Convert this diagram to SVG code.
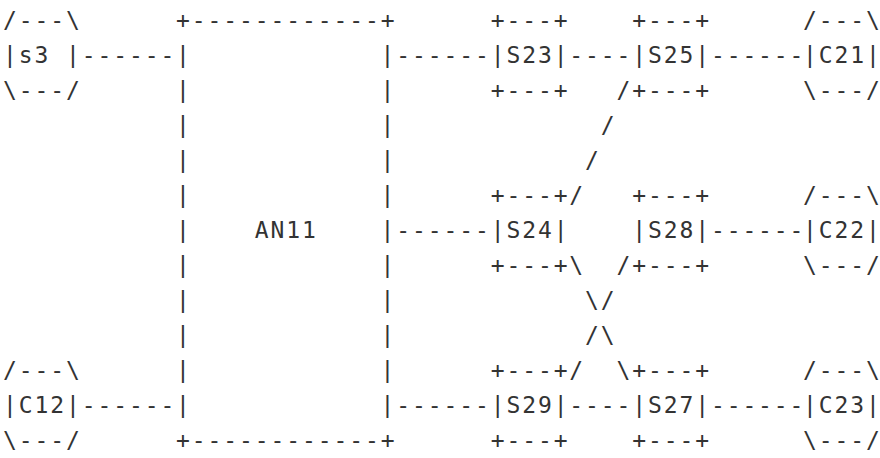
<svg xmlns="http://www.w3.org/2000/svg" width="880" height="458" viewBox="0 0 880 458">
<style>
text { font-family: "DejaVu Sans Mono", "Liberation Mono", monospace; font-size: 23px; letter-spacing: 1.885px; fill: #333333; white-space: pre; }
text.edge { letter-spacing: 0; }
</style>
<rect width="880" height="458" fill="#ffffff"/>
<g id="connectors">
<text y="63"><tspan x="81.73">------</tspan><tspan x="396.33">------</tspan><tspan x="569.36">----</tspan><tspan x="710.93">------</tspan></text>
<text y="98"><tspan x="616.55">/</tspan></text>
<text y="133"><tspan x="600.82">/</tspan></text>
<text y="168"><tspan x="585.09">/</tspan></text>
<text y="203"><tspan x="569.36">/</tspan></text>
<text y="238"><tspan x="396.33">------</tspan><tspan x="710.93">------</tspan></text>
<text y="273"><tspan x="569.36">\</tspan><tspan x="616.55">/</tspan></text>
<text y="308"><tspan x="585.09">\/</tspan></text>
<text y="343"><tspan x="585.09">/\</tspan></text>
<text y="378"><tspan x="569.36">/</tspan><tspan x="616.55">\</tspan></text>
<text y="413"><tspan x="81.73">------</tspan><tspan x="396.33">------</tspan><tspan x="569.36">----</tspan><tspan x="710.93">------</tspan></text>
</g>
<g id="s3">
<text x="3.08" y="28">/---\</text>
<text x="3.08" y="63">|s3 |</text>
<text x="3.08" y="98">\---/</text>
</g>
<g id="C12">
<text x="3.08" y="378">/---\</text>
<text x="3.08" y="413">|C12|</text>
<text x="3.08" y="448">\---/</text>
</g>
<g id="AN11">
<text x="176.11" y="28">+------------+</text>
<text y="63"><tspan x="176.11">|</tspan><tspan x="380.6">|</tspan></text>
<text y="98"><tspan x="176.11">|</tspan><tspan x="380.6">|</tspan></text>
<text y="133"><tspan x="176.11">|</tspan><tspan x="380.6">|</tspan></text>
<text y="168"><tspan x="176.11">|</tspan><tspan x="380.6">|</tspan></text>
<text y="203"><tspan x="176.11">|</tspan><tspan x="380.6">|</tspan></text>
<text y="238"><tspan x="176.11">|</tspan><tspan x="254.76">AN11</tspan><tspan x="380.6">|</tspan></text>
<text y="273"><tspan x="176.11">|</tspan><tspan x="380.6">|</tspan></text>
<text y="308"><tspan x="176.11">|</tspan><tspan x="380.6">|</tspan></text>
<text y="343"><tspan x="176.11">|</tspan><tspan x="380.6">|</tspan></text>
<text y="378"><tspan x="176.11">|</tspan><tspan x="380.6">|</tspan></text>
<text y="413"><tspan x="176.11">|</tspan><tspan x="380.6">|</tspan></text>
<text x="176.11" y="448">+------------+</text>
</g>
<g id="S23">
<text x="490.71" y="28">+---+</text>
<text x="490.71" y="63">|S23|</text>
<text x="490.71" y="98">+---+</text>
</g>
<g id="S25">
<text x="632.28" y="28">+---+</text>
<text x="632.28" y="63">|S25|</text>
<text x="632.28" y="98">+---+</text>
</g>
<g id="C21">
<text class="edge" x="803 818.73 834.46 850.19 865.92" y="28">/---\</text>
<text class="edge" x="803 818.73 834.46 850.19 865.92" y="63">|C21|</text>
<text class="edge" x="803 818.73 834.46 850.19 865.92" y="98">\---/</text>
</g>
<g id="S24">
<text x="490.71" y="203">+---+</text>
<text x="490.71" y="238">|S24|</text>
<text x="490.71" y="273">+---+</text>
</g>
<g id="S28">
<text x="632.28" y="203">+---+</text>
<text x="632.28" y="238">|S28|</text>
<text x="632.28" y="273">+---+</text>
</g>
<g id="C22">
<text class="edge" x="803 818.73 834.46 850.19 865.92" y="203">/---\</text>
<text class="edge" x="803 818.73 834.46 850.19 865.92" y="238">|C22|</text>
<text class="edge" x="803 818.73 834.46 850.19 865.92" y="273">\---/</text>
</g>
<g id="S29">
<text x="490.71" y="378">+---+</text>
<text x="490.71" y="413">|S29|</text>
<text x="490.71" y="448">+---+</text>
</g>
<g id="S27">
<text x="632.28" y="378">+---+</text>
<text x="632.28" y="413">|S27|</text>
<text x="632.28" y="448">+---+</text>
</g>
<g id="C23">
<text class="edge" x="803 818.73 834.46 850.19 865.92" y="378">/---\</text>
<text class="edge" x="803 818.73 834.46 850.19 865.92" y="413">|C23|</text>
<text class="edge" x="803 818.73 834.46 850.19 865.92" y="448">\---/</text>
</g>
</svg>
